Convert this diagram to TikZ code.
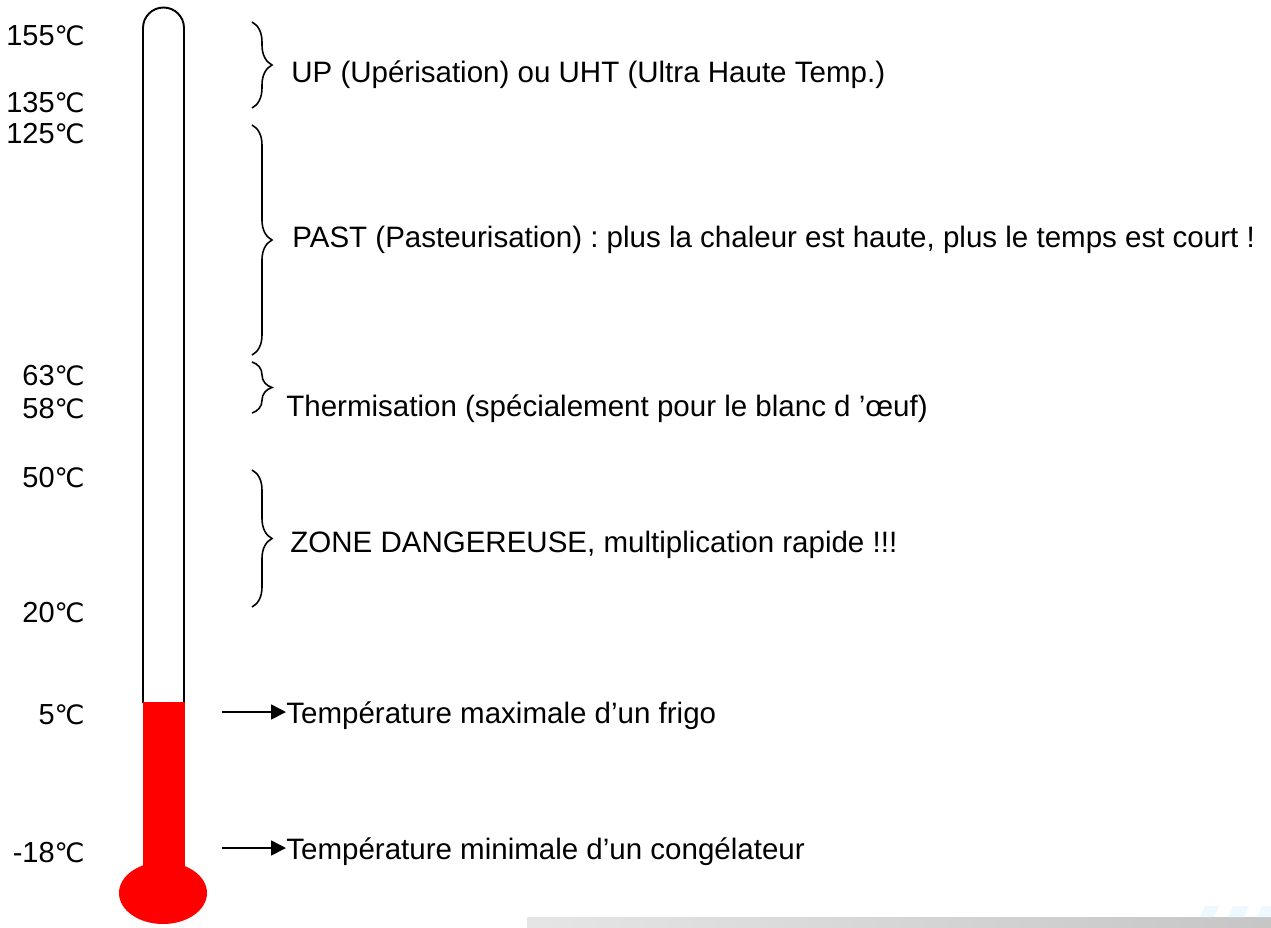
\documentclass[tikz,border=0pt]{standalone}
\usepackage{fontspec}
\setmainfont{Liberation Sans}
\newfontfamily\degfont[Scale=0.92]{DejaVu Sans}
\usetikzlibrary{arrows.meta,decorations.pathreplacing}
\newcommand{\degC}{{\degfont ℃}}
\frenchspacing
\tikzset{
  lbl/.style={anchor=base east, inner sep=0pt, font=\fontsize{16.5}{19}\selectfont},
  txt/.style={anchor=base west, inner sep=0pt, font=\fontsize{16.8}{19}\selectfont},
  brc/.style={decorate, decoration={brace, amplitude=0.4cm}, line width=0.9pt},
  arr/.style={-{Triangle[length=0.3cm, width=0.3cm]}, line width=0.9pt}
}
\begin{document}
\begin{tikzpicture}[x=0.02cm, y=-0.02cm]
\useasboundingbox (0,0) rectangle (1271,927);
\fill[white] (0,0) rectangle (1271,927);

\shade[left color=gray!20, right color=gray!45] (527,917) rectangle (1271,927);
\fill[cyan!7] (1205,906) -- (1219,906) -- (1214,917) -- (1200,917) -- cycle;
\fill[cyan!7] (1233,906) -- (1249,906) -- (1244,917) -- (1228,917) -- cycle;
\fill[cyan!7] (1262,906) -- (1271,906) -- (1271,917) -- (1257,917) -- cycle;

\draw[line width=1.1pt] (143,703) -- (143,28) arc[start angle=180, end angle=360, radius=20.5] -- (184,703);
\fill[red] (143,702) rectangle (185,875);
\fill[red] (163,893) ellipse [x radius=44, y radius=31];

\node[lbl] (t155) at (85,45) {155\degC};
\node[lbl] (t135) at (85,112) {135\degC};
\node[lbl] (t125) at (85,143) {125\degC};
\node[lbl] (t63) at (85,385) {63\degC};
\node[lbl] (t58) at (85,418) {58\degC};
\node[lbl] (t50) at (85,487) {50\degC};
\node[lbl] (t20) at (85,622) {20\degC};
\node[lbl] (t5) at (85,724) {5\degC};
\node[lbl] (tm18) at (85,862) {-18\degC};

\coordinate (b1a) at (252,22);
\coordinate (b1b) at (252,108);
\coordinate (b2a) at (252,125);
\coordinate (b2b) at (252,355);
\coordinate (b3a) at (252,362);
\coordinate (b3b) at (252,413);
\coordinate (b4a) at (252,470);
\coordinate (b4b) at (252,607);

\draw[brc] (b1a) -- (b1b);
\draw[brc] (b2a) -- (b2b);
\draw[brc] (b3a) -- (b3b);
\draw[brc] (b4a) -- (b4b);

\node[txt] (uht) at (291,82) {UP (Upérisation) ou UHT (Ultra Haute Temp.)};
\node[txt] (past) at (292,247) {PAST (Pasteurisation) : plus la chaleur est haute, plus le temps est court !};
\node[txt] (therm) at (286,416) {Thermisation (spécialement pour le blanc d ’œuf)};
\node[txt] (zone) at (290,552) {ZONE DANGEREUSE, multiplication rapide !!!};
\node[txt] (frigo) at (286,723) {Température maximale d’un frigo};
\node[txt] (congel) at (286,859) {Température minimale d’un congélateur};

\coordinate (a5) at (222,712);
\coordinate (a18) at (222,848);
\draw[arr] (a5) -- (frigo.west |- a5);
\draw[arr] (a18) -- (congel.west |- a18);
\end{tikzpicture}
\end{document}
